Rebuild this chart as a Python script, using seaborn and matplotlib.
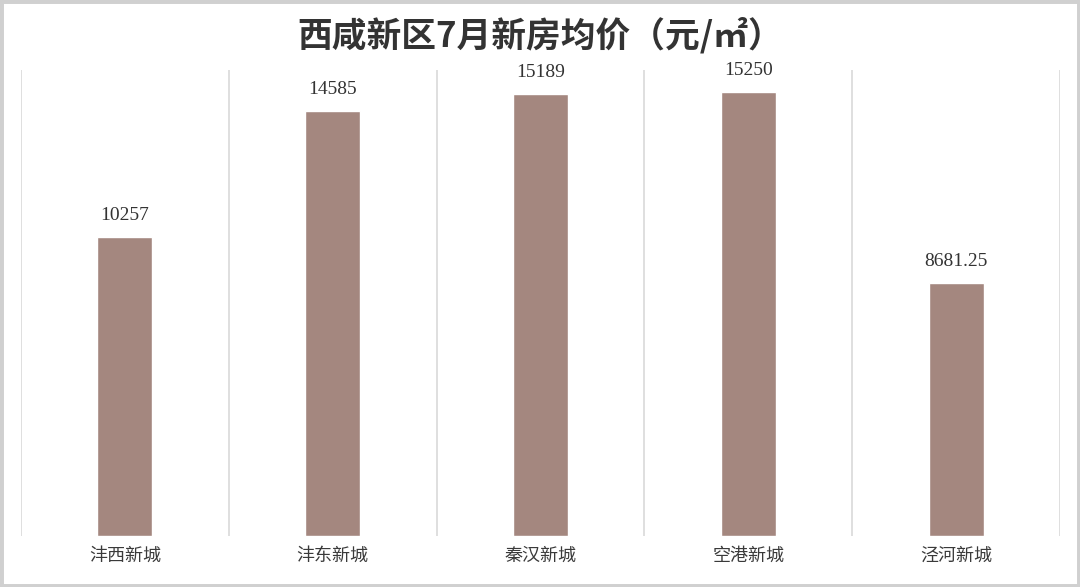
import seaborn as sns
import pandas as pd
import matplotlib.pyplot as plt
from matplotlib.patches import Rectangle

districts = ["沣西新城", "沣东新城", "秦汉新城", "空港新城", "泾河新城"]
prices = [10257, 14585, 15189, 15250, 8681.25]
price_labels = ["10257", "14585", "15189", "15250", "8681.25"]

df = pd.DataFrame({"district": districts, "price": prices})

sns.set_theme(style="white")
plt.rcParams['font.family'] = ['Noto Sans CJK SC', 'DejaVu Sans']

fig = plt.figure(figsize=(10.8, 5.87), dpi=100)
ax = fig.add_axes([21 / 1080, 51 / 587, 1039 / 1080, 466 / 587])

sns.barplot(data=df, x="district", y="price", color="#a4877f", saturation=1,
            width=0.265, ax=ax)

ax.set_ylim(0, 16000)
ax.set_xlim(-0.5, len(districts) - 0.5)
for xb in [i - 0.5 for i in range(len(districts) + 1)]:
    ax.axvline(xb, color="#d9d9d9", lw=1.2, zorder=0)

for i, (v, lab) in enumerate(zip(prices, price_labels)):
    ax.text(i, v + 450, lab, ha="center", va="bottom", fontsize=14,
            family="Liberation Serif", color="#333333")

ax.set_xlabel(None)
ax.set_ylabel(None)
ax.set_yticks([])
ax.tick_params(axis="x", length=0, pad=8)
for t in ax.get_xticklabels():
    t.set_fontsize(13)
    t.set_color("#3a3a3a")
    t.set_fontweight("medium")
sns.despine(ax=ax, left=True, bottom=True)

fig.text(0.5, 0.94, "西咸新区7月新房均价（元/㎡）", ha="center", va="center",
         fontsize=25, fontweight="bold", color="#333333")

# light frame around the image
fig.patches.append(Rectangle((0, 0), 1, 1, transform=fig.transFigure, fill=False,
                             edgecolor="#d0d0d0", lw=5))

fig.savefig("out.png", dpi=100)
